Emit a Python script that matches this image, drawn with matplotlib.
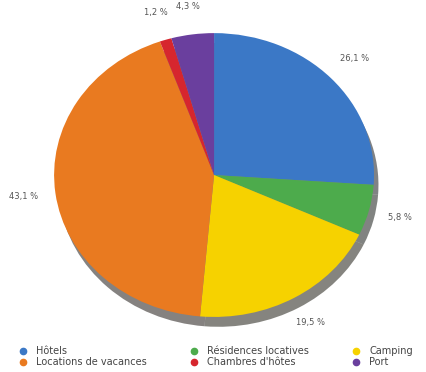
import matplotlib.pyplot as plt
from matplotlib.lines import Line2D

categories = ['Hôtels', 'Résidences locatives', 'Camping',
              'Locations de vacances', "Chambres d'hôtes", 'Port']
shares = [26.1, 5.8, 19.5, 43.1, 1.2, 4.3]
colors = ['#3b78c6', '#4dab4c', '#f6d200', '#e97a20', '#d6262e', '#6a3f9e']
# legend fills column by column, so reorder to read row by row
legend_order = [0, 3, 1, 4, 2, 5]


def fmt(p):
    return ('%.1f %%' % p).replace('.', ',')


fig = plt.figure(figsize=(4.26, 3.72), dpi=100)
ax = fig.add_axes([0.127, 0.148, 0.751, 0.763])

wedges, texts, autotexts = ax.pie(
    shares, colors=colors, startangle=90, counterclock=False,
    autopct=fmt, pctdistance=1.2,
    shadow={'ox': 0.02, 'oy': -0.05, 'shade': 0.95},
    textprops={'fontsize': 6, 'color': '#555555'},
    wedgeprops={'linewidth': 0})
ax.set_aspect('auto')
ax.set_xlim(-1, 1)
ax.set_ylim(-1, 1)

handles = [Line2D([], [], marker='o', linestyle='', markersize=4.5,
                  markerfacecolor=colors[i], markeredgecolor=colors[i])
           for i in legend_order]
labels = [categories[i] for i in legend_order]
fig.legend(handles, labels, loc='lower center', ncol=3,
           bbox_to_anchor=(0.5, -0.01), frameon=False, fontsize=7,
           handletextpad=0.4, columnspacing=3.8, labelspacing=0.1,
           labelcolor='#444444')

fig.savefig('out.png', dpi=100)
